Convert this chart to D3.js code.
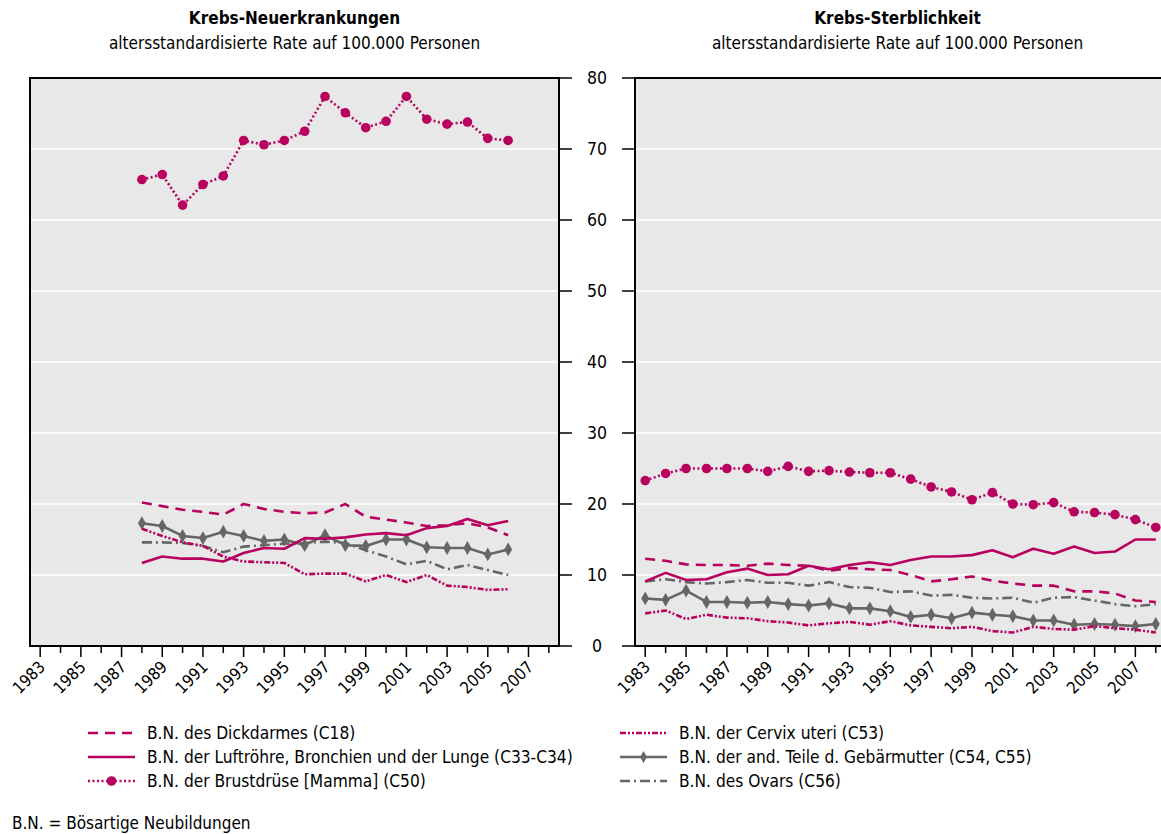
<!DOCTYPE html>
<html><head><meta charset="utf-8">
<script src="https://cdn.jsdelivr.net/npm/d3@7"></script>
<style>
body{margin:0;background:#fff;}
text{font-family:"Liberation Sans Narrow","Arial Narrow","DejaVu Sans Condensed",sans-serif;fill:#000;}
</style></head>
<body>
<svg id="chart" width="1161" height="834"></svg>
<script>
const years = d3.range(1983, 2009);
const yearsInc = d3.range(1988, 2007);
const yTicks = [0,10,20,30,40,50,60,70,80];

// Incidence (left panel), 1988-2006
const incDickdarm = [20.2,19.7,19.2,18.9,18.5,20.0,19.3,18.9,18.7,18.8,20.0,18.2,17.8,17.4,16.9,17.0,17.3,16.7,15.6];
const incLunge    = [11.7,12.6,12.3,12.3,11.9,13.1,13.8,13.7,15.2,15.1,15.3,15.7,15.9,15.6,16.6,16.9,17.9,17.0,17.6];
const incBrust    = [65.7,66.4,62.1,65.0,66.2,71.2,70.6,71.2,72.5,77.4,75.1,73.0,73.9,77.4,74.2,73.5,73.8,71.5,71.2];
const incCervix   = [16.5,15.5,14.6,14.1,12.6,11.9,11.8,11.7,10.1,10.2,10.2,9.1,10.0,9.0,10.0,8.5,8.3,7.9,8.0];
const incGebaer   = [17.3,16.9,15.5,15.2,16.1,15.5,14.8,15.0,14.2,15.6,14.2,14.1,15.0,15.0,13.9,13.8,13.8,12.9,13.6];
const incOvar     = [14.6,14.6,14.5,14.1,13.2,14.0,14.2,14.4,14.5,14.7,14.5,13.5,12.6,11.5,12.0,10.8,11.4,10.7,10.0];

// Mortality (right panel), 1983-2008
const mortDickdarm = [12.3,12.0,11.5,11.4,11.4,11.3,11.6,11.4,11.3,10.6,11.0,10.8,10.7,10.0,9.1,9.4,9.8,9.2,8.8,8.5,8.5,7.7,7.7,7.4,6.4,6.2];
const mortLunge    = [9.1,10.3,9.3,9.4,10.4,10.9,10.0,10.1,11.3,10.8,11.4,11.8,11.4,12.1,12.6,12.6,12.8,13.5,12.5,13.7,13.0,14.0,13.1,13.3,15.0,15.0];
const mortBrust    = [23.3,24.3,25.0,25.0,25.0,25.0,24.6,25.3,24.6,24.7,24.5,24.4,24.4,23.5,22.4,21.7,20.6,21.6,20.0,19.9,20.2,18.9,18.8,18.5,17.8,16.7];
const mortCervix   = [4.6,5.0,3.8,4.4,4.0,3.9,3.5,3.3,2.9,3.2,3.4,3.0,3.5,2.9,2.7,2.5,2.7,2.1,1.9,2.7,2.4,2.3,2.8,2.5,2.3,1.9];
const mortGebaer   = [6.7,6.5,7.8,6.2,6.2,6.1,6.2,5.9,5.7,6.0,5.3,5.3,4.9,4.1,4.4,3.9,4.7,4.4,4.2,3.6,3.6,3.0,3.1,3.0,2.8,3.1];
const mortOvar     = [9.1,9.4,9.0,8.8,9.0,9.3,8.9,8.9,8.5,9.0,8.3,8.2,7.6,7.7,7.1,7.2,6.8,6.7,6.8,6.1,6.8,6.9,6.4,5.9,5.6,5.9];

const titles = [["Krebs-Neuerkrankungen","altersstandardisierte Rate auf 100.000 Personen"],
                ["Krebs-Sterblichkeit","altersstandardisierte Rate auf 100.000 Personen"]];
const legendLabels = ["B.N. des Dickdarmes (C18)","B.N. der Luftröhre, Bronchien und der Lunge (C33-C34)","B.N. der Brustdrüse [Mamma] (C50)",
                      "B.N. der Cervix uteri (C53)","B.N. der and. Teile d. Gebärmutter (C54, C55)","B.N. des Ovars (C56)"];
const footnote = "B.N. = Bösartige Neubildungen";

const MAG = "#b8005e", GRY = "#666666";
const styles = [
  {color:MAG, dash:"10,7", marker:null},
  {color:MAG, dash:null, marker:null},
  {color:MAG, dash:"2,2.5", marker:"dot"},
  {color:MAG, dash:"6,2,2,2,2,2", marker:null},
  {color:GRY, dash:null, marker:"diamond"},
  {color:GRY, dash:"10,4,2,4", marker:null}
];

const svg = d3.select("#chart");
const y = d3.scaleLinear().domain([0,80]).range([646,78]);

const panels = [
  {x0:30, x1:559, yrs:yearsInc, series:[incDickdarm,incLunge,incBrust,incCervix,incGebaer,incOvar], title:titles[0]},
  {x0:635, x1:1166, yrs:years, series:[mortDickdarm,mortLunge,mortBrust,mortCervix,mortGebaer,mortOvar], title:titles[1]}
];

panels.forEach((p, pi) => {
  const x = d3.scaleBand().domain(years).range([p.x0, p.x1]);
  const cx = yr => x(yr) + x.bandwidth()/2;
  const g = svg.append("g");
  g.append("rect").attr("x",p.x0).attr("y",78).attr("width",p.x1-p.x0).attr("height",568).attr("fill","#e8e8e8");
  g.selectAll("line.grid").data(yTicks.slice(1,-1)).join("line")
    .attr("x1",p.x0).attr("x2",p.x1).attr("y1",d=>y(d)).attr("y2",d=>y(d))
    .attr("stroke","#fff").attr("stroke-width",1.5);
  g.append("rect").attr("x",p.x0).attr("y",78).attr("width",p.x1-p.x0).attr("height",568)
    .attr("fill","none").attr("stroke","#000").attr("stroke-width",2);

  // x ticks
  const xt = g.append("g");
  xt.selectAll("line").data(years).join("line")
    .attr("x1",d=>cx(d)).attr("x2",d=>cx(d)).attr("y1",646).attr("y2",d=>(d%2===1?657:653))
    .attr("stroke","#000").attr("stroke-width",1.5);
  xt.selectAll("text").data(years.filter(d=>d%2===1)).join("text")
    .attr("transform",d=>`translate(${cx(d)+6},${668}) rotate(-45)`)
    .attr("text-anchor","end").attr("font-size",16.5).text(d=>d);

  // y ticks
  const tx1 = pi===0 ? p.x1 : p.x0-13, tx2 = pi===0 ? p.x1+13 : p.x0;
  g.selectAll("line.yt").data(yTicks).join("line")
    .attr("x1",tx1).attr("x2",tx2).attr("y1",d=>y(d)).attr("y2",d=>y(d))
    .attr("stroke","#000").attr("stroke-width",1.5);

  // titles
  g.append("text").attr("x",(p.x0+p.x1)/2 - (pi===1?3:0)).attr("y",24).attr("text-anchor","middle")
    .attr("font-size",17).attr("font-weight","bold").text(p.title[0]);
  g.append("text").attr("x",(p.x0+p.x1)/2 - (pi===1?3:0)).attr("y",49).attr("text-anchor","middle")
    .attr("font-size",17).text(p.title[1]);

  const line = d3.line().x((d,i)=>cx(p.yrs[i])).y(d=>y(d));
  const clip = "clip"+pi;
  svg.append("clipPath").attr("id",clip).append("rect").attr("x",p.x0).attr("y",70).attr("width",p.x1-p.x0).attr("height",600);
  const sg = g.append("g").attr("clip-path",`url(#${clip})`);
  // draw order: ovar, gebaer, cervix, dickdarm, lunge, brust
  [5,4,3,0,1,2].forEach(si => {
    const st = styles[si], data = p.series[si];
    sg.append("path").datum(data).attr("d",line).attr("fill","none")
      .attr("stroke",st.color).attr("stroke-width",2.6)
      .attr("stroke-dasharray",st.dash).attr("stroke-linejoin","round");
    if (st.marker==="dot") {
      sg.selectAll(null).data(data).join("circle").attr("cx",(d,i)=>cx(p.yrs[i])).attr("cy",d=>y(d))
        .attr("r",4.8).attr("fill",st.color);
    } else if (st.marker==="diamond") {
      sg.selectAll(null).data(data).join("path")
        .attr("d",d3.symbol(d3.symbolDiamond,55))
        .attr("transform",(d,i)=>`translate(${cx(p.yrs[i])},${y(d)})`).attr("fill",st.color);
    }
  });
});

// y tick labels
svg.append("g").selectAll("text").data(yTicks).join("text")
  .attr("x",597).attr("y",d=>y(d)+6).attr("text-anchor","middle").attr("font-size",17.5).text(d=>d);

// legend
const legPos = [[88,147,733],[88,147,757],[88,147,781],[620,679,733],[620,679,757],[620,679,781]];
legendLabels.forEach((lab,i) => {
  const [lx,tx,ly] = legPos[i], st = styles[i];
  const lg = svg.append("g");
  lg.append("line").attr("x1",lx).attr("x2",lx+47).attr("y1",ly).attr("y2",ly)
    .attr("stroke",st.color).attr("stroke-width",2.6).attr("stroke-dasharray",st.dash);
  if (st.marker==="dot") lg.append("circle").attr("cx",lx+23.5).attr("cy",ly).attr("r",4.8).attr("fill",st.color);
  if (st.marker==="diamond") lg.append("path").attr("d",d3.symbol(d3.symbolDiamond,40)).attr("transform",`translate(${lx+23.5},${ly})`).attr("fill",st.color);
  lg.append("text").attr("x",tx).attr("y",ly+6).attr("font-size",17.2).text(lab);
});

svg.append("text").attr("x",12).attr("y",829).attr("font-size",17).text(footnote);
</script>
</body></html>
